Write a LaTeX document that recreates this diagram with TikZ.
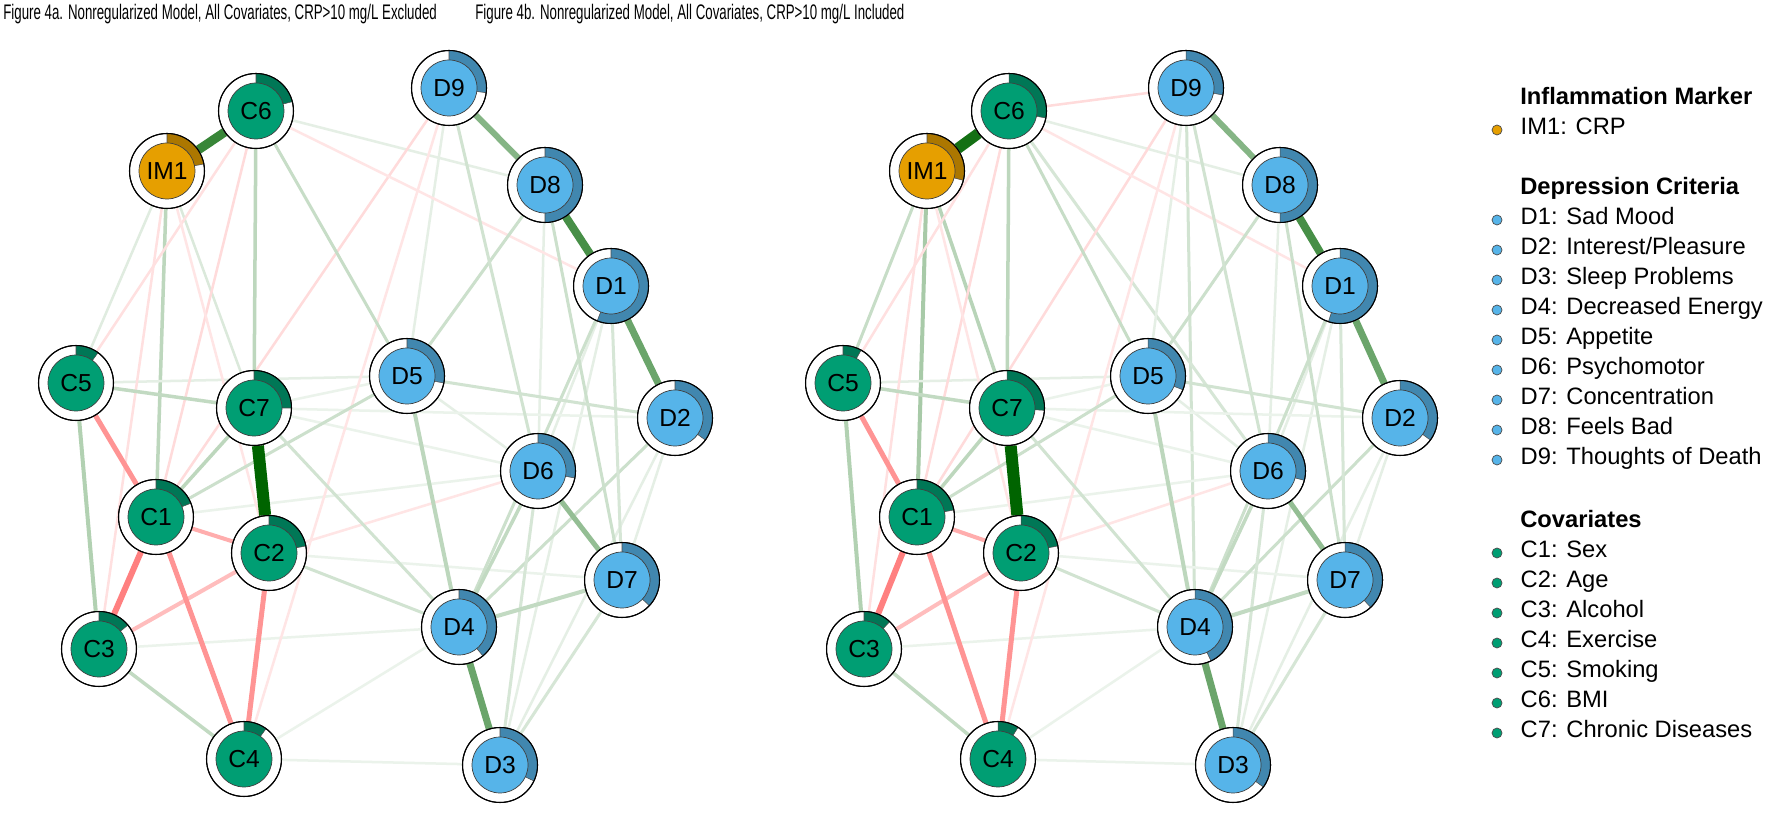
\documentclass[tikz,border=0pt]{standalone}
\usepackage{fontspec}
\setmainfont{Liberation Sans}
\newfontfamily\titlefont[FakeStretch=0.63]{Liberation Sans}
\usepackage{tikz}
\usetikzlibrary{positioning}
\pgfdeclarelayer{back}
\pgfdeclarelayer{edges}
\pgfsetlayers{back,edges,main}
\definecolor{imorange}{RGB}{230,159,0}
\definecolor{depblue}{RGB}{86,180,233}
\definecolor{covgreen}{RGB}{0,158,115}
\definecolor{posgreen}{RGB}{0,100,0}
\definecolor{negred}{RGB}{255,0,0}
\tikzset{
	nodering/.style={circle, draw=black, line width=0.6pt, fill=white, minimum size=1.5cm, inner sep=0pt},
	nodecore/.style={circle, draw=black!75, line width=0.4pt, minimum size=1.12cm, inner sep=0pt, font=\fontsize{14}{14}\selectfont},
	pedge/.style={draw=posgreen!#1!white},
	nedge/.style={draw=negred!#1!white},
	lw/.style={line width=#1*0.57pt},
	legdot/.style={circle, draw=black!70, line width=0.4pt, minimum size=0.2cm, inner sep=0pt},
	legtext/.style={anchor=west, inner sep=0pt, text height=0.75em, text depth=0.22em, font=\fontsize{13.5}{14}\selectfont},
	leghead/.style={legtext, font=\fontsize{13.5}{14}\selectfont\bfseries},
	figtitle/.style={anchor=base west, inner sep=0pt, font=\titlefont\fontsize{12}{14}\selectfont},
}
% node with predictability pie: name, position, label, colour, fraction
\newcommand{\netnode}[5]{%
	\node[nodering] (#1) at (#2) {};
	\fill[#4!75!black, draw=black!70, line width=0.3pt] (#1.center) -- ++(90:0.75cm) arc[start angle=90, delta angle={-360*#5}, radius=0.75cm] -- cycle;
	\draw[line width=0.6pt] (#1.center) circle[radius=0.75cm];
	\node[nodecore, fill=#4] (#1-core) at (#1) {#3};
}
% edges both panels have
\newcommand{\netedges}[1]{%
	% faint
	\draw[pedge=10, lw=2.5] (#1C6) -- (#1D8);
	\draw[pedge=10, lw=2.5] (#1D9) -- (#1D5);
	\draw[pedge=10, lw=2.5] (#1D8) -- (#1D6);
	\draw[pedge=10, lw=2.5] (#1D1) -- (#1D6);
	\draw[pedge=10, lw=2.5] (#1D2) -- (#1D7);
	\draw[pedge=10, lw=2.5] (#1D2) -- (#1D3);
	\draw[pedge=10, lw=2.5] (#1D1) -- (#1D3);
	\draw[pedge=10, lw=2.5] (#1C5) -- (#1D5);
	\draw[pedge=10, lw=2.5] (#1D5) -- (#1D6);
	\draw[pedge=8, lw=2.5] (#1C7) -- (#1D5);
	\draw[pedge=8, lw=2.5] (#1C3) -- (#1D4);
	\draw[pedge=8, lw=2.5] (#1C4) -- (#1D3);
	\draw[pedge=8, lw=2.5] (#1C4) -- (#1D4);
	\draw[pedge=8, lw=2.5] (#1C1) -- (#1D6);
	\draw[pedge=8, lw=2.5] (#1C2) -- (#1D7);
	\draw[pedge=8, lw=2.5] (#1C7) -- (#1D6);
	\draw[pedge=8, lw=2.5] (#1C7) -- (#1D2);
	\draw[nedge=14, lw=2.5] (#1C1) -- (#1D9);
	\draw[nedge=14, lw=2.5] (#1C6) -- (#1C1);
	\draw[nedge=12, lw=2.5] (#1C6) -- (#1C5);
	\draw[nedge=12, lw=2.5] (#1IM1) -- (#1C3);
	\draw[nedge=10, lw=2.5] (#1C4) -- (#1D9);
	\draw[nedge=10, lw=2.5] (#1C2) -- (#1D6);
	\draw[nedge=10, lw=2.5] (#1C6) -- (#1D1);
	\draw[nedge=10, lw=2.5] (#1IM1) -- (#1C2);
	% medium
	\draw[pedge=20, lw=3] (#1C1) -- (#1D5);
	\draw[pedge=20, lw=3] (#1D4) -- (#1D2);
	\draw[pedge=22, lw=3] (#1C6) -- (#1D5);
	\draw[pedge=20, lw=3] (#1D8) -- (#1D5);
	\draw[pedge=20, lw=3] (#1D8) -- (#1D7);
	\draw[pedge=18, lw=3] (#1D9) -- (#1D6);
	\draw[pedge=20, lw=3] (#1D1) -- (#1D4);
	\draw[pedge=16, lw=3] (#1D1) -- (#1D7);
	\draw[pedge=18, lw=3] (#1D5) -- (#1D2);
	\draw[pedge=18, lw=3] (#1C7) -- (#1D4);
	\draw[pedge=18, lw=3] (#1C2) -- (#1D4);
	\draw[pedge=16, lw=3] (#1D7) -- (#1D3);
	\draw[pedge=16, lw=3] (#1D6) -- (#1D3);
	\draw[pedge=30, lw=4] (#1C5) -- (#1C3);
	\draw[pedge=24, lw=3.5] (#1C3) -- (#1C4);
	\draw[pedge=26, lw=3.5] (#1C6) -- (#1C7);
	\draw[pedge=24, lw=3.5] (#1C5) -- (#1C7);
	\draw[pedge=26, lw=3.5] (#1C7) -- (#1C1);
	\draw[pedge=26, lw=4] (#1D5) -- (#1D4);
	\draw[pedge=24, lw=4] (#1D4) -- (#1D7);
	\draw[pedge=24, lw=3.5] (#1D4) -- (#1D6);
	% negative
	\draw[nedge=26, lw=4] (#1C2) -- (#1C3);
	\draw[nedge=32, lw=4] (#1C1) -- (#1C2);
	\draw[nedge=42, lw=5] (#1C5) -- (#1C1);
	\draw[nedge=42, lw=5] (#1C2) -- (#1C4);
	\draw[nedge=42, lw=5] (#1C1) -- (#1C4);
	\draw[nedge=50, lw=6] (#1C1) -- (#1C3);
	% strong
	\draw[pedge=42, lw=5] (#1D6) -- (#1D7);
	\draw[pedge=48, lw=6] (#1D9) -- (#1D8);
	\draw[pedge=58, lw=7] (#1D4) -- (#1D3);
	\draw[pedge=58, lw=7] (#1D1) -- (#1D2);
	\draw[pedge=72, lw=8] (#1D8) -- (#1D1);
	\draw[pedge=100, lw=12] (#1C7) -- (#1C2);
}

\begin{document}
\begin{tikzpicture}[x=0.02cm, y=0.02cm]
	\useasboundingbox (0,0) rectangle (1781,-813);
	\begin{pgfonlayer}{back}
		\fill[white] (0,0) rectangle (1781,-813);
	\end{pgfonlayer}
	\node[figtitle] (t-a) at (3,-20) {Figure 4a. Nonregularized Model, All Covariates, CRP>10 mg/L Excluded};
	\node[figtitle] (t-b) at (475,-20) {Figure 4b. Nonregularized Model, All Covariates, CRP>10 mg/L Included};
	% Figure 4a
	\netnode{a-IM1}{167,-171}{IM1}{imorange}{0.22}
	\netnode{a-C1}{156,-517}{C1}{covgreen}{0.19}
	\netnode{a-C2}{269,-553}{C2}{covgreen}{0.22}
	\netnode{a-C3}{99,-649}{C3}{covgreen}{0.14}
	\netnode{a-C4}{244,-759}{C4}{covgreen}{0.10}
	\netnode{a-C5}{76,-383}{C5}{covgreen}{0.10}
	\netnode{a-C6}{256,-111}{C6}{covgreen}{0.21}
	\netnode{a-C7}{254,-408}{C7}{covgreen}{0.25}
	\netnode{a-D1}{611,-286}{D1}{depblue}{0.56}
	\netnode{a-D2}{675,-418}{D2}{depblue}{0.35}
	\netnode{a-D3}{500,-765}{D3}{depblue}{0.32}
	\netnode{a-D4}{459,-627}{D4}{depblue}{0.39}
	\netnode{a-D5}{407,-376}{D5}{depblue}{0.28}
	\netnode{a-D6}{538,-471}{D6}{depblue}{0.28}
	\netnode{a-D7}{622,-580}{D7}{depblue}{0.37}
	\netnode{a-D8}{545,-185}{D8}{depblue}{0.50}
	\netnode{a-D9}{449,-88}{D9}{depblue}{0.27}
	% Figure 4b
	\netnode{b-IM1}{927,-171}{IM1}{imorange}{0.29}
	\netnode{b-C1}{917,-517}{C1}{covgreen}{0.22}
	\netnode{b-C2}{1021,-553}{C2}{covgreen}{0.22}
	\netnode{b-C3}{864,-649}{C3}{covgreen}{0.12}
	\netnode{b-C4}{998,-759}{C4}{covgreen}{0.09}
	\netnode{b-C5}{843,-383}{C5}{covgreen}{0.08}
	\netnode{b-C6}{1009,-111}{C6}{covgreen}{0.28}
	\netnode{b-C7}{1007,-408}{C7}{covgreen}{0.26}
	\netnode{b-D1}{1340,-286}{D1}{depblue}{0.55}
	\netnode{b-D2}{1400,-418}{D2}{depblue}{0.35}
	\netnode{b-D3}{1233,-765}{D3}{depblue}{0.35}
	\netnode{b-D4}{1195,-627}{D4}{depblue}{0.43}
	\netnode{b-D5}{1148,-376}{D5}{depblue}{0.31}
	\netnode{b-D6}{1268,-471}{D6}{depblue}{0.29}
	\netnode{b-D7}{1345,-580}{D7}{depblue}{0.38}
	\netnode{b-D8}{1280,-185}{D8}{depblue}{0.50}
	\netnode{b-D9}{1186,-88}{D9}{depblue}{0.28}
	\begin{pgfonlayer}{edges}
		\draw[pedge=12, lw=2.5] (a-IM1) -- (a-C5);
		\draw[pedge=14, lw=2.5] (a-IM1) -- (a-C7);
		\draw[pedge=26, lw=3.5] (a-IM1) -- (a-C1);
		\netedges{a-}
		\draw[pedge=78, lw=9] (a-IM1) -- (a-C6);
		\draw[nedge=14, lw=2.5] (b-C6) -- (b-D9);
		\draw[pedge=18, lw=3] (b-D9) -- (b-D4);
		\draw[pedge=16, lw=3] (b-C6) -- (b-D6);
		\draw[pedge=22, lw=3] (b-IM1) -- (b-C5);
		\draw[pedge=28, lw=3.5] (b-IM1) -- (b-C7);
		\draw[pedge=34, lw=4] (b-IM1) -- (b-C1);
		\netedges{b-}
		\draw[pedge=92, lw=11] (b-IM1) -- (b-C6);
	\end{pgfonlayer}
	% legend
	\node[leghead] (h-im) at (1520,-100) {Inflammation Marker};
	\node[legdot, fill=imorange] (l-IM1) at (1497,-130) {};
	\node[legtext, right=0.36cm of l-IM1] (n-IM1) {IM1: CRP};
	\node[leghead] (h-dep) at (1520,-190) {Depression Criteria};
	\node[legdot, fill=depblue] (l-D1) at (1497,-220) {};
	\node[legtext, right=0.36cm of l-D1] (n-D1) {D1: Sad Mood};
	\node[legdot, fill=depblue] (l-D2) at (1497,-250) {};
	\node[legtext, right=0.36cm of l-D2] (n-D2) {D2: Interest/Pleasure};
	\node[legdot, fill=depblue] (l-D3) at (1497,-280) {};
	\node[legtext, right=0.36cm of l-D3] (n-D3) {D3: Sleep Problems};
	\node[legdot, fill=depblue] (l-D4) at (1497,-310) {};
	\node[legtext, right=0.36cm of l-D4] (n-D4) {D4: Decreased Energy};
	\node[legdot, fill=depblue] (l-D5) at (1497,-340) {};
	\node[legtext, right=0.36cm of l-D5] (n-D5) {D5: Appetite};
	\node[legdot, fill=depblue] (l-D6) at (1497,-370) {};
	\node[legtext, right=0.36cm of l-D6] (n-D6) {D6: Psychomotor};
	\node[legdot, fill=depblue] (l-D7) at (1497,-400) {};
	\node[legtext, right=0.36cm of l-D7] (n-D7) {D7: Concentration};
	\node[legdot, fill=depblue] (l-D8) at (1497,-430) {};
	\node[legtext, right=0.36cm of l-D8] (n-D8) {D8: Feels Bad};
	\node[legdot, fill=depblue] (l-D9) at (1497,-460) {};
	\node[legtext, right=0.36cm of l-D9] (n-D9) {D9: Thoughts of Death};
	\node[leghead] (h-cov) at (1520,-523) {Covariates};
	\node[legdot, fill=covgreen] (l-C1) at (1497,-553) {};
	\node[legtext, right=0.36cm of l-C1] (n-C1) {C1: Sex};
	\node[legdot, fill=covgreen] (l-C2) at (1497,-583) {};
	\node[legtext, right=0.36cm of l-C2] (n-C2) {C2: Age};
	\node[legdot, fill=covgreen] (l-C3) at (1497,-613) {};
	\node[legtext, right=0.36cm of l-C3] (n-C3) {C3: Alcohol};
	\node[legdot, fill=covgreen] (l-C4) at (1497,-643) {};
	\node[legtext, right=0.36cm of l-C4] (n-C4) {C4: Exercise};
	\node[legdot, fill=covgreen] (l-C5) at (1497,-673) {};
	\node[legtext, right=0.36cm of l-C5] (n-C5) {C5: Smoking};
	\node[legdot, fill=covgreen] (l-C6) at (1497,-703) {};
	\node[legtext, right=0.36cm of l-C6] (n-C6) {C6: BMI};
	\node[legdot, fill=covgreen] (l-C7) at (1497,-733) {};
	\node[legtext, right=0.36cm of l-C7] (n-C7) {C7: Chronic Diseases};
\end{tikzpicture}
\end{document}
